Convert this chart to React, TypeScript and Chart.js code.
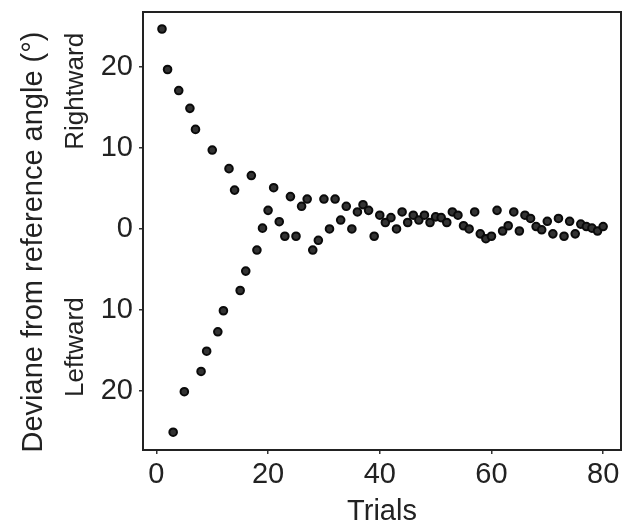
import React, { useEffect, useRef } from "react";
import { Chart, registerables } from "chart.js";

Chart.register(...registerables);

const trials: number[] = [
  1, 2, 3, 4, 5, 6, 7, 8, 9, 10,
  11, 12, 13, 14, 15, 16, 17, 18, 19, 20,
  21, 22, 23, 24, 25, 26, 27, 28, 29, 30,
  31, 32, 33, 34, 35, 36, 37, 38, 39, 40,
  41, 42, 43, 44, 45, 46, 47, 48, 49, 50,
  51, 52, 53, 54, 55, 56, 57, 58, 59, 60,
  61, 62, 63, 64, 65, 66, 67, 68, 69, 70,
  71, 72, 73, 74, 75, 76, 77, 78, 79, 80,
];

const deviation: number[] = [
  24.7, 19.7, -25.1, 17.1, -20.1, 14.9, 12.3, -17.6, -15.1, 9.75,
  -12.7, -10.1, 7.45, 4.8, -7.6, -5.2, 6.6, -2.6, 0.1, 2.3,
  5.1, 0.9, -0.9, 4.0, -0.9, 2.8, 3.7, -2.6, -1.4, 3.7,
  0.0, 3.7, 1.1, 2.8, 0.0, 2.1, 3.0, 2.3, -0.9, 1.7,
  0.8, 1.4, 0.0, 2.1, 0.8, 1.7, 1.1, 1.7, 0.8, 1.5,
  1.4, 0.8, 2.1, 1.7, 0.4, 0.0, 2.1, -0.6, -1.2, -0.9,
  2.3, -0.25, 0.4, 2.1, -0.25, 1.7, 1.3, 0.3, -0.1, 0.95,
  -0.6, 1.3, -0.9, 0.95, -0.6, 0.6, 0.3, 0.1, -0.25, 0.3,
];

const xTicks: number[] = [0, 20, 40, 60, 80];
const yTicks: number[] = [-20, -10, 0, 10, 20];

const yTitle = "Deviane from reference angle (°)";
const upLabel = "Rightward";
const downLabel = "Leftward";
const xTitle = "Trials";

const FONT = "'Liberation Sans', Arial, sans-serif";

export default function App() {
  const ref = useRef<HTMLCanvasElement | null>(null);

  useEffect(() => {
    if (!ref.current) return;
    const sidePlugin = {
      id: "sideLabels",
      afterDraw(chart: any) {
        const { ctx, chartArea } = chart;
        const ys = chart.scales.y;
        ctx.save();
        ctx.strokeStyle = "#222";
        ctx.lineWidth = 2;
        ctx.strokeRect(chartArea.left, chartArea.top, chartArea.right - chartArea.left, chartArea.bottom - chartArea.top);
        ctx.fillStyle = "#222";
        ctx.textAlign = "center";
        ctx.textBaseline = "alphabetic";
        ctx.save();
        ctx.translate(42, 242);
        ctx.rotate(-Math.PI / 2);
        ctx.font = `29px ${FONT}`;
        ctx.fillText(yTitle, 0, 0);
        ctx.restore();
        ctx.save();
        ctx.translate(83, ys.getPixelForValue(17));
        ctx.rotate(-Math.PI / 2);
        ctx.font = `26px ${FONT}`;
        ctx.fillText(upLabel, 0, 0);
        ctx.restore();
        ctx.save();
        ctx.translate(83, ys.getPixelForValue(-14.6));
        ctx.rotate(-Math.PI / 2);
        ctx.font = `26px ${FONT}`;
        ctx.fillText(downLabel, 0, 0);
        ctx.restore();
        ctx.restore();
      },
    };

    const chart = new Chart(ref.current, {
      type: "scatter",
      data: {
        datasets: [
          {
            data: trials.map((t, i) => ({ x: t, y: deviation[i] })),
            backgroundColor: "#333",
            borderColor: "#0a0a0a",
            borderWidth: 2,
            pointRadius: 3.8,
          },
        ],
      },
      options: {
        animation: false,
        responsive: false,
        maintainAspectRatio: false,
        layout: { padding: { top: 12, right: 2, left: 0, bottom: 0 } },
        plugins: { legend: { display: false }, tooltip: { enabled: false } },
        scales: {
          x: {
            type: "linear",
            min: -2.4,
            max: 83.2,
            afterBuildTicks: (s: any) => {
              s.ticks = xTicks.map((v) => ({ value: v }));
            },
            afterFit: (s: any) => {
              s.height = 82;
              s.paddingLeft = 0;
              s.paddingRight = 0;
            },
            grid: { display: true, drawOnChartArea: false, drawTicks: true, tickLength: 4, color: "#333", lineWidth: 1.5 },
            border: { display: true, color: "#222", width: 2 },
            ticks: { color: "#222", font: { family: FONT, size: 29 }, padding: 4 },
            title: { display: true, text: xTitle, color: "#222", font: { family: FONT, size: 29 }, padding: { top: 4, bottom: 3 } },
          },
          y: {
            type: "linear",
            min: -27.3,
            max: 26.8,
            afterBuildTicks: (s: any) => {
              s.ticks = yTicks.map((v) => ({ value: v }));
            },
            afterFit: (s: any) => {
              s.width = 143;
              s.paddingTop = 0;
              s.paddingBottom = 0;
            },
            grid: { display: true, drawOnChartArea: false, drawTicks: true, tickLength: 4, color: "#333", lineWidth: 1.5 },
            border: { display: true, color: "#222", width: 2 },
            ticks: {
              color: "#222",
              font: { family: FONT, size: 29 },
              padding: 6,
              callback: (v: any) => String(Math.abs(Number(v))),
            },
          },
        },
      },
      plugins: [sidePlugin],
    } as any);
    return () => chart.destroy();
  }, []);

  return (
    <div style={{ position: "fixed", left: 0, top: 0, width: 627, height: 532, background: "#fff" }}>
      <canvas ref={ref} width={627} height={532} style={{ width: 627, height: 532 }} />
    </div>
  );
}
